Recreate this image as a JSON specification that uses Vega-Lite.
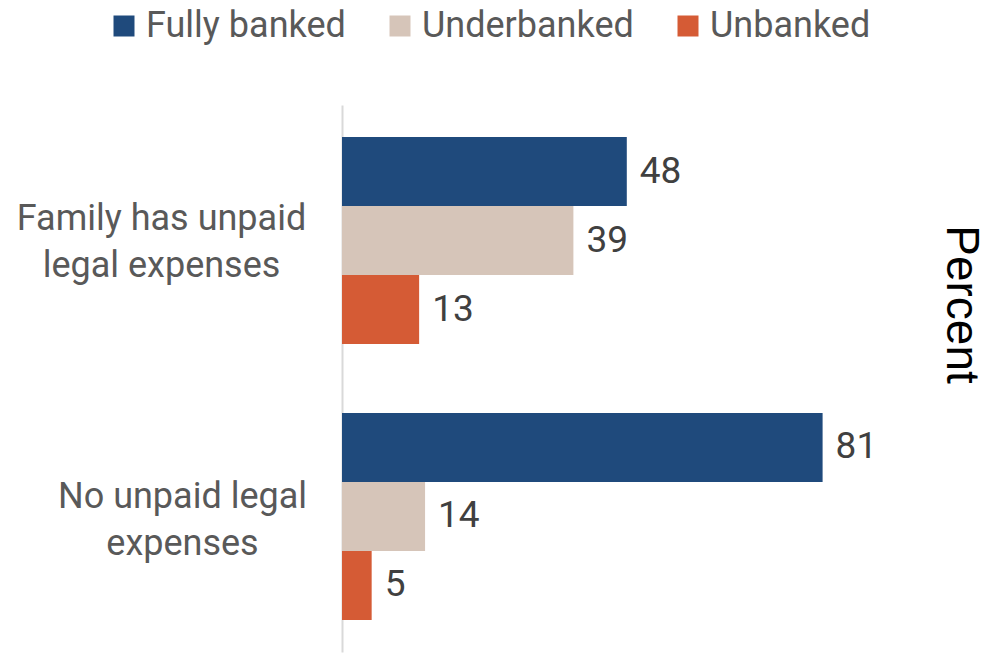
{
  "$schema": "https://vega.github.io/schema/vega-lite/v6.json",
  "width": 534,
  "height": 547,
  "autosize": {"type": "none"},
  "padding": {"left": 342, "top": 105, "right": 116, "bottom": 2},
  "background": "white",
  "title": {
    "text": "Percent",
    "orient": "right",
    "anchor": "middle",
    "font": "Liberation Sans",
    "fontSize": 46,
    "fontWeight": "normal",
    "color": "#000000",
    "offset": 60,
    "dx": -74
  },
  "data": {
    "values": [
      {"category": "Family has unpaid legal expenses", "group": "Fully banked", "value": 48},
      {"category": "Family has unpaid legal expenses", "group": "Underbanked", "value": 39},
      {"category": "Family has unpaid legal expenses", "group": "Unbanked", "value": 13},
      {"category": "No unpaid legal expenses", "group": "Fully banked", "value": 81},
      {"category": "No unpaid legal expenses", "group": "Underbanked", "value": 14},
      {"category": "No unpaid legal expenses", "group": "Unbanked", "value": 5}
    ]
  },
  "config": {
    "view": {"stroke": null},
    "font": "Roboto"
  },
  "encoding": {
    "y": {
      "field": "category",
      "type": "nominal",
      "sort": ["Family has unpaid legal expenses", "No unpaid legal expenses"],
      "scale": {"paddingInner": 0.25, "paddingOuter": 0.116},
      "axis": {
        "title": null,
        "ticks": false,
        "domainColor": "#d9d9d9",
        "domainWidth": 2,
        "labelFont": "Roboto",
        "labelFontSize": 36,
        "labelColor": "#595959",
        "labelAlign": "center",
        "labelBaseline": "middle",
        "labelLineHeight": 47,
        "labelOffset": {"condition": {"test": "datum.value === 'No unpaid legal expenses'", "value": -19}, "value": -22},
        "labelLimit": 0,
        "labelPadding": {"condition": {"test": "datum.value === 'No unpaid legal expenses'", "value": 160}, "value": 181},
        "labelExpr": "datum.value === 'No unpaid legal expenses' ? ['No unpaid legal', 'expenses'] : ['Family has unpaid', 'legal expenses']"
      }
    },
    "yOffset": {
      "field": "group",
      "type": "nominal",
      "sort": ["Fully banked", "Underbanked", "Unbanked"],
      "scale": {"paddingInner": 0, "paddingOuter": 0}
    },
    "x": {
      "field": "value",
      "type": "quantitative",
      "scale": {"domain": [0, 90], "nice": false, "zero": true},
      "axis": null
    }
  },
  "layer": [
    {
      "mark": {"type": "bar"},
      "encoding": {
        "color": {
          "field": "group",
          "type": "nominal",
          "sort": ["Fully banked", "Underbanked", "Unbanked"],
          "scale": {"domain": ["Fully banked", "Underbanked", "Unbanked"], "range": ["#1F4A7C", "#D6C5B9", "#D55B35"]},
          "legend": {
            "title": null,
            "orient": "none",
            "direction": "horizontal",
            "legendX": -236,
            "legendY": -97,
            "symbolType": "square",
            "symbolSize": 441,
            "symbolStrokeWidth": 0,
            "labelFont": "Roboto",
            "labelFontSize": 36,
            "labelColor": "#595959",
            "labelLimit": 0,
            "labelOffset": 4,
            "columnPadding": 36,
            "symbolOffset": 0
          }
        }
      }
    },
    {
      "mark": {"type": "text", "align": "left", "baseline": "middle", "dx": 13, "font": "Roboto", "fontSize": 37, "color": "#404040"},
      "encoding": {
        "text": {"field": "value", "type": "quantitative"}
      }
    }
  ]
}
